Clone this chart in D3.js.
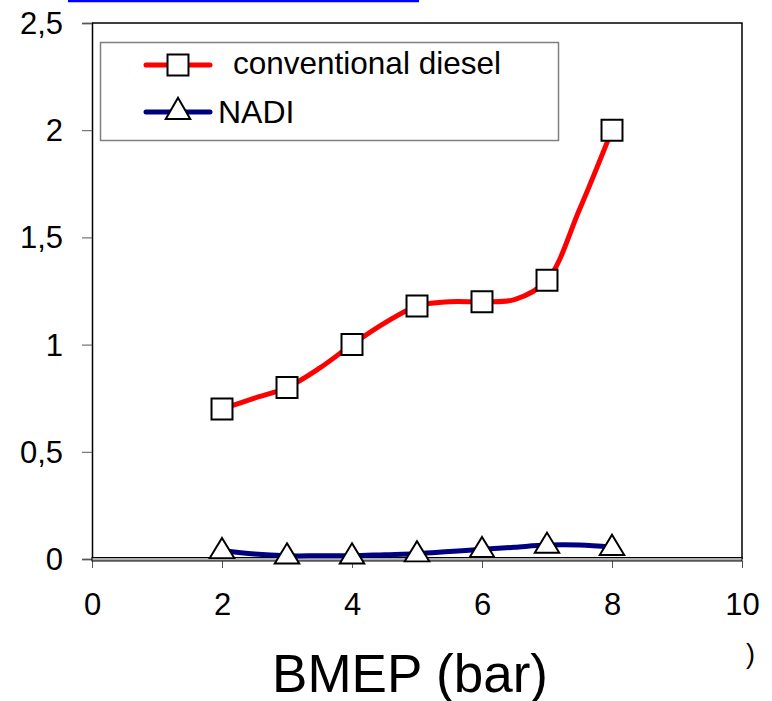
<!DOCTYPE html>
<html>
<head>
<meta charset="utf-8">
<script src="https://cdn.jsdelivr.net/npm/d3@7"></script>
<style>
  body { margin: 0; background: #fff; }
  text { font-family: "Liberation Sans", Arial, sans-serif; fill: #000; }
</style>
</head>
<body>
<div id="chart"></div>
<script>
// data (line points every 0.5 bar, markers on whole bars)
const bmep = [2, 2.5, 3, 3.5, 4, 4.5, 5, 5.5, 6, 6.5, 7, 7.5, 8];
const conventionalDiesel = [0.70, 0.75, 0.80, 0.89, 1.00, 1.10, 1.18, 1.20, 1.20, 1.21, 1.30, 1.63, 2.00];
const nadi = [0.04, 0.023, 0.015, 0.015, 0.015, 0.02, 0.025, 0.035, 0.045, 0.055, 0.065, 0.065, 0.055];
const xTicks = [0, 2, 4, 6, 8, 10];
const yTicks = [0, 0.5, 1, 1.5, 2, 2.5];
const seriesNames = ["conventional diesel", "NADI"];

const width = 772, height = 701;
const margin = { top: 23, right: 30, bottom: 142, left: 92 };

const svg = d3.select("#chart")
  .append("svg")
  .attr("width", width)
  .attr("height", height);

const x = d3.scaleLinear().domain([0, 10]).range([margin.left, width - margin.right]);
const y = d3.scaleLinear().domain([0, 2.5]).range([height - margin.bottom, margin.top]);

// blue underline at the very top (cut-off link)
svg.append("line")
  .attr("x1", 68).attr("x2", 419)
  .attr("y1", 1).attr("y2", 1)
  .attr("stroke", "#0000ff")
  .attr("stroke-width", 2.5);

// plot frame: top and right border
svg.append("path")
  .attr("d", `M${x(0)},${y(2.5)}H${x(10)}V${y(0)}`)
  .attr("fill", "none")
  .attr("stroke", "#000")
  .attr("stroke-width", 1.5);

// y axis
const yAxis = svg.append("g")
  .attr("transform", `translate(${x(0)},0)`)
  .call(d3.axisLeft(y).tickValues(yTicks).tickSize(10).tickPadding(19)
    .tickFormat(d => String(d).replace(".", ",")));
yAxis.select(".domain").attr("stroke", "#000").attr("stroke-width", 1.5);
yAxis.selectAll(".tick line").attr("stroke", "#555");
yAxis.selectAll(".tick text")
  .attr("font-size", 31)
  .attr("dy", "0.34em")
  .style("font-family", "Liberation Sans, Arial, sans-serif");

// x axis (double line)
const xAxis = svg.append("g")
  .attr("transform", `translate(0,${y(0) + 2})`)
  .call(d3.axisBottom(x).tickValues(xTicks).tickSize(7).tickPadding(25).tickSizeOuter(0));
xAxis.select(".domain").remove();
xAxis.selectAll(".tick line").attr("stroke", "#555");
xAxis.selectAll(".tick text")
  .attr("font-size", 31)
  .attr("dy", "0.7em")
  .style("font-family", "Liberation Sans, Arial, sans-serif");

svg.append("rect")
  .attr("x", x(0))
  .attr("y", y(0) - 1.5)
  .attr("width", x(10) - x(0))
  .attr("height", 3.5)
  .attr("fill", "#b0b0b0")
  .attr("stroke", "#000")
  .attr("stroke-width", 1);

// axis title
svg.append("text")
  .attr("x", 410)
  .attr("y", 692)
  .attr("text-anchor", "middle")
  .attr("font-size", 53)
  .text("BMEP (bar)");

svg.append("text")
  .attr("x", 746)
  .attr("y", 663)
  .attr("font-size", 27)
  .text(")");

// lines
const line = d3.line()
  .x(d => x(d[0]))
  .y(d => y(d[1]))
  .curve(d3.curveCatmullRom.alpha(0.5));

const dieselPts = bmep.map((b, i) => [b, conventionalDiesel[i]]);
const nadiPts = bmep.map((b, i) => [b, nadi[i]]);

svg.append("path")
  .datum(nadiPts)
  .attr("d", line)
  .attr("fill", "none")
  .attr("stroke", "#000080")
  .attr("stroke-width", 5);

svg.append("path")
  .datum(dieselPts)
  .attr("d", line)
  .attr("fill", "none")
  .attr("stroke", "#ff0000")
  .attr("stroke-width", 5);

// markers on whole-bar points
const square = d3.symbol().type(d3.symbolSquare).size(440);
const triangle = d3.symbol().type(d3.symbolTriangle).size(260);

svg.selectAll("path.tri")
  .data(nadiPts.filter(d => Number.isInteger(d[0])))
  .enter()
  .append("path")
  .attr("class", "tri")
  .attr("d", triangle)
  .attr("transform", d => `translate(${x(d[0])},${y(d[1]) + 1}) scale(1.0,0.95)`)
  .attr("fill", "#fff")
  .attr("stroke", "#000")
  .attr("stroke-width", 2);

svg.selectAll("path.sq")
  .data(dieselPts.filter(d => Number.isInteger(d[0])))
  .enter()
  .append("path")
  .attr("class", "sq")
  .attr("d", square)
  .attr("transform", d => `translate(${x(d[0])},${y(d[1])})`)
  .attr("fill", "#fff")
  .attr("stroke", "#000")
  .attr("stroke-width", 2);

// legend
const legend = svg.append("g");
legend.append("rect")
  .attr("x", 100.5).attr("y", 42.5)
  .attr("width", 458).attr("height", 98)
  .attr("fill", "#fff")
  .attr("stroke", "#808080")
  .attr("stroke-width", 1.5);

const legendRows = [
  { name: seriesNames[0], color: "#ff0000", sym: square, ty: 65, tx: 233, by: 74, fs: 31.5 },
  { name: seriesNames[1], color: "#000080", sym: triangle, ty: 112, tx: 218, by: 123, fs: 32 }
];

legendRows.forEach(r => {
  legend.append("line")
    .attr("x1", 146).attr("x2", 210)
    .attr("y1", r.ty).attr("y2", r.ty)
    .attr("stroke", r.color)
    .attr("stroke-width", 5)
    .attr("stroke-linecap", "round");
  legend.append("path")
    .attr("d", r.sym)
    .attr("transform", `translate(178,${r.ty})`)
    .attr("fill", "#fff")
    .attr("stroke", "#000")
    .attr("stroke-width", 2);
  legend.append("text")
    .attr("x", r.tx)
    .attr("y", r.by)
    .attr("font-size", r.fs)
    .text(r.name);
});
</script>
</body>
</html>
